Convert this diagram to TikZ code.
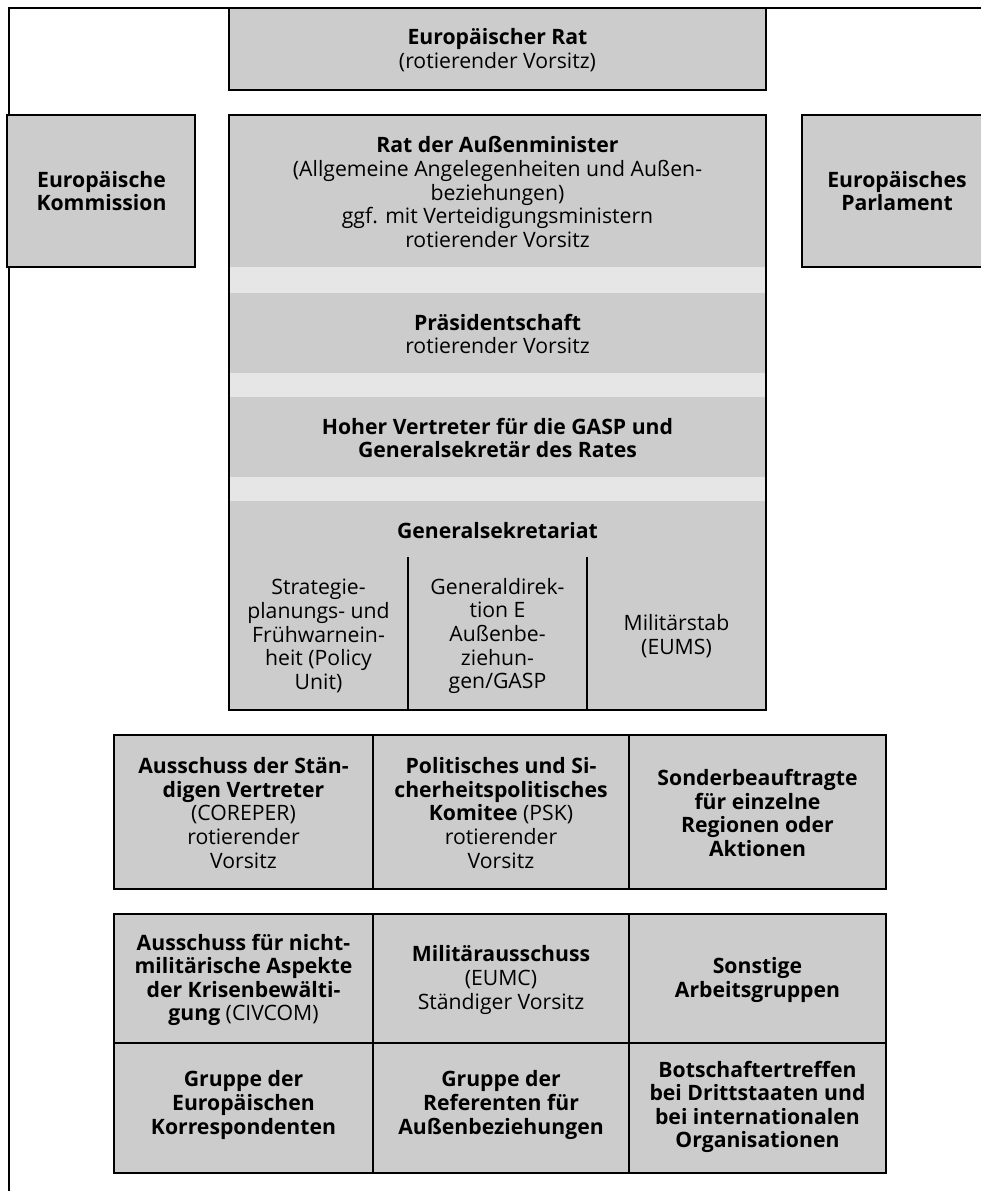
\documentclass[tikz,border=0pt]{standalone}
\usepackage{fontspec}
\setmainfont{Open Sans}
\definecolor{boxgray}{HTML}{CCCCCC}
\definecolor{bandgray}{HTML}{E6E6E6}
\tikzset{
  box/.style={draw=black,fill=boxgray,line width=1.3pt},
  rule/.style={line width=1.3pt},
  lbl/.style={align=center,inner sep=0pt},
}

\begin{document}
\begin{tikzpicture}[x=0.5pt,y=-0.5pt,font=\fontsize{10.6}{11.8}\selectfont]
 \useasboundingbox (0,0) rectangle (981,1191);
 % frame line
 \draw[rule] (992,8) -- (9,8) -- (9,1191);
 % top row
 \draw[box] (229,8) rectangle (766,90);
 \node[lbl] (eurat) at (497.5,50) {\textbf{Europäischer Rat}\\(rotierender Vorsitz)};
 \draw[box] (7,115) rectangle (195,267);
 \node[lbl] (kom) at (101.5,191) {\textbf{Europäische}\\\textbf{Kommission}};
 \draw[box] (802,115) rectangle (992,267);
 \node[lbl] (parl) at (897,191) {\textbf{Europäisches}\\\textbf{Parlament}};
 % council column
 \fill[boxgray] (229,115) rectangle (766,710);
 \foreach \ya/\yb in {267/293,373/397,477/501}
  \fill[bandgray] (229,\ya) rectangle (766,\yb);
 \draw[rule] (229,115) rectangle (766,710);
 \draw[line width=1pt] (408,557) -- (408,710) (587,557) -- (587,710);
 \node[lbl] (rat) at (497.5,192) {\textbf{Rat der Außenminister}\\(Allgemeine Angelegenheiten und Außen-\\beziehungen)\\ggf. mit Verteidigungsministern\\rotierender Vorsitz};
 \node[lbl] (praes) at (497.5,334) {\textbf{Präsidentschaft}\\rotierender Vorsitz};
 \node[lbl] (hv) at (497.5,438) {\textbf{Hoher Vertreter für die GASP und}\\\textbf{Generalsekretär des Rates}};
 \node[lbl] (gs) at (497.5,531) {\textbf{Generalsekretariat}};
 \node[lbl] (strat) at (318.5,636) {Strategie-\\planungs- und\\Frühwarnein-\\heit (Policy\\Unit)};
 \node[lbl] (gd) at (497.5,636) {Generaldirek-\\tion E\\Außenbe-\\ziehun-\\gen/GASP};
 \node[lbl] (ms) at (676.5,636) {Militärstab\\(EUMS)};
 % committees
 \draw[box] (114,735) rectangle (886,889);
 \draw[rule] (373,735) -- (373,889) (629,735) -- (629,889);
 \node[lbl] (coreper) at (243.5,813) {\textbf{Ausschuss der Stän-}\\\textbf{digen Vertreter}\\(COREPER)\\rotierender\\Vorsitz};
 \node[lbl] (psk) at (501,813) {\textbf{Politisches und Si-}\\\textbf{cherheitspolitisches}\\\textbf{Komitee} (PSK)\\rotierender\\Vorsitz};
 \node[lbl] (sonder) at (757.5,813) {\textbf{Sonderbeauftragte}\\\textbf{für einzelne}\\\textbf{Regionen oder}\\\textbf{Aktionen}};
 % working groups
 \draw[box] (114,914) rectangle (886,1173);
 \draw[rule] (114,1043) -- (886,1043) (373,914) -- (373,1173) (629,914) -- (629,1173);
 \node[lbl] (civcom) at (243.5,980) {\textbf{Ausschuss für nicht-}\\\textbf{militärische Aspekte}\\\textbf{der Krisenbewälti-}\\\textbf{gung} (CIVCOM)};
 \node[lbl] (eumc) at (501,980) {\textbf{Militärausschuss}\\(EUMC)\\Ständiger Vorsitz};
 \node[lbl] (sonst) at (757.5,980) {\textbf{Sonstige}\\\textbf{Arbeitsgruppen}};
 \node[lbl] (korr) at (243.5,1105) {\textbf{Gruppe der}\\\textbf{Europäischen}\\\textbf{Korrespondenten}};
 \node[lbl] (ref) at (501,1105) {\textbf{Gruppe der}\\\textbf{Referenten für}\\\textbf{Außenbeziehungen}};
 \node[lbl] (botsch) at (757.5,1107) {\textbf{Botschaftertreffen}\\\textbf{bei Drittstaaten und}\\\textbf{bei internationalen}\\\textbf{Organisationen}};
\end{tikzpicture}
\end{document}
